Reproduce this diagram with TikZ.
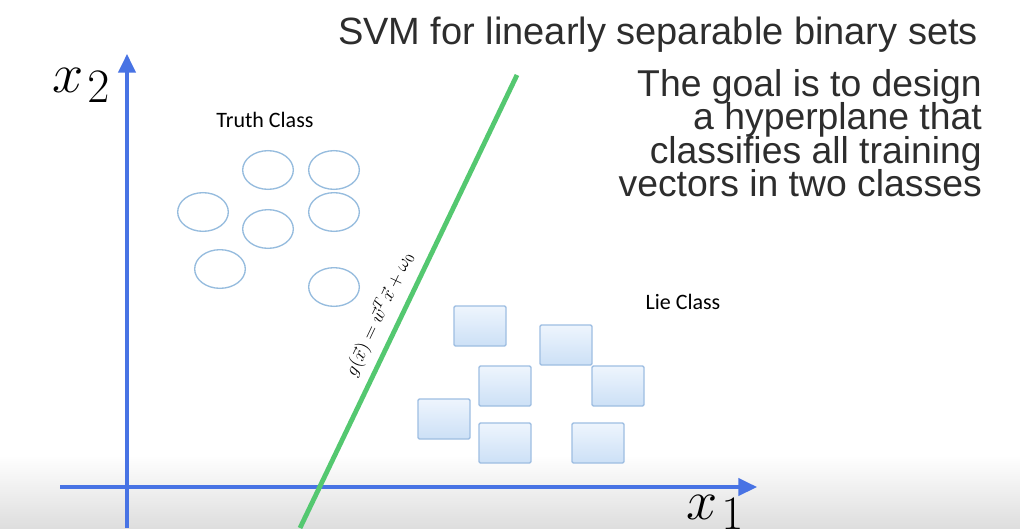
\RequirePackage{fix-cm}
\documentclass[tikz,border=0pt]{standalone}
\usepackage{fontspec}
\setmainfont{Liberation Sans}
\newfontfamily\calib{Carlito}
\usetikzlibrary{arrows.meta,shapes.geometric}
\definecolor{axisblue}{RGB}{72,115,228}
\definecolor{sepgreen}{RGB}{84,200,112}
\definecolor{circblue}{RGB}{150,188,222}
\definecolor{sqborder}{RGB}{158,190,226}
\definecolor{sqtop}{RGB}{238,245,253}
\definecolor{sqbot}{RGB}{204,224,246}
\definecolor{titlegray}{RGB}{45,45,45}
\tikzset{
  axis/.style={draw=axisblue, line width=2.6pt, -{Triangle[length=14pt,width=13pt]}},
  truthpt/.style={draw=circblue, line width=1pt, ellipse, minimum width=38pt, minimum height=29pt, inner sep=0pt},
  liept/.style={draw=sqborder, line width=1.1pt, rectangle, rounded corners=1pt, minimum width=39pt, minimum height=30pt, inner sep=0pt, top color=sqtop, bottom color=sqbot},
  classlbl/.style={font=\calib\fontsize{16.5}{18}\selectfont, text=black},
  biglbl/.style={font=\fontsize{28}{30}\selectfont, text=titlegray, anchor=base east, inner sep=0pt},
  axlbl/.style={inner sep=0pt}
}
\begin{document}
\begin{tikzpicture}[x=0.75pt,y=-0.75pt]
\useasboundingbox (0,0) rectangle (1020,528);
\fill[white] (0,0) rectangle (1020,528);
\shade[top color=white, bottom color=black!13] (0,455) rectangle (1020,528);
% axes
\coordinate (ybot) at (127,528);
\coordinate (ytop) at (127,54);
\coordinate (xleft) at (60,487);
\coordinate (xright) at (757,487);
\draw[axis] (ybot) -- (ytop);
\draw[axis] (xleft) -- (xright);
\node[axlbl, anchor=base west] (x2) at (52,93) {\fontsize{42}{42}\selectfont$x$\hspace{3pt}\raisebox{-7.5pt}{\fontsize{36}{36}\selectfont$2$}};
\node[axlbl, anchor=base west] (x1) at (686,519) {\fontsize{42}{42}\selectfont$x$\hspace{3pt}\raisebox{-7.5pt}{\fontsize{36}{36}\selectfont$1$}};
% separating line
\coordinate (gbot) at (300,528);
\coordinate (gtop) at (517,75);
\draw[sepgreen, line width=3.6pt] (gbot) -- node[pos=0.452, sloped, above=3pt, text=black, font=\fontsize{14}{14}\selectfont] (glbl) {$g(\vec{x})=\vec{w}^T\vec{x}+\omega_0$} (gtop);
% texts
\node[font=\fontsize{28.5}{30}\selectfont, text=titlegray, anchor=base] (title) at (658,45) {SVM for linearly separable binary sets};
\node[biglbl] (goal1) at (982,96) {The goal is to design};
\node[biglbl] (goal2) at (982,129.5) {a hyperplane that};
\node[biglbl] (goal3) at (982,163) {classifies all training};
\node[biglbl] (goal4) at (982,196.5) {vectors in two classes};
\node[classlbl] (truth) at (265,120) {Truth Class};
\node[classlbl] (lie) at (683,302) {Lie Class};
% truth circles
\node[truthpt] (c1) at (268,170) {};
\node[truthpt] (c2) at (334,170) {};
\node[truthpt] (c3) at (203,212) {};
\node[truthpt] (c4) at (268,229) {};
\node[truthpt] (c5) at (334,212) {};
\node[truthpt] (c6) at (220,269) {};
\node[truthpt] (c7) at (334,287) {};
% lie squares
\node[liept] (s1) at (480,326) {};
\node[liept] (s2) at (566,345) {};
\node[liept] (s3) at (505,386) {};
\node[liept] (s4) at (618,386) {};
\node[liept] (s5) at (444,419) {};
\node[liept] (s6) at (505,443) {};
\node[liept] (s7) at (598,443) {};
\end{tikzpicture}
\end{document}
